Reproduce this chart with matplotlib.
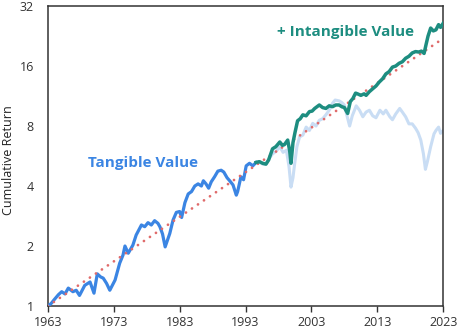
import numpy as np
import matplotlib
matplotlib.use('Agg')
import matplotlib.pyplot as plt
from matplotlib.ticker import FixedLocator, FixedFormatter

plt.rcParams['font.family'] = ['Open Sans', 'DejaVu Sans']

# Tangible value portfolio, cumulative growth of $1 (half-year readings)
tang_years = [1963.0, 1963.5, 1964.0, 1964.6, 1965.1, 1965.6, 1966.1, 1966.8, 1967.3, 1967.8,
              1968.6, 1969.4, 1970.0, 1970.5, 1971.0, 1971.4, 1971.9, 1972.4, 1973.2, 1973.9,
              1974.4, 1974.7, 1975.2, 1975.9, 1976.4, 1977.2, 1977.7, 1978.2, 1978.7, 1979.2,
              1979.7, 1980.0, 1980.4, 1980.8, 1981.5, 1982.0, 1982.5, 1983.0, 1983.3, 1983.8,
              1984.3, 1984.8, 1985.3, 1985.8, 1986.3, 1986.6, 1987.0, 1987.4, 1987.8, 1988.3,
              1988.8, 1989.3, 1989.7, 1990.2, 1990.6, 1991.1, 1991.6, 1991.8, 1992.3, 1992.7,
              1993.1, 1993.6, 1994.1, 1994.6,
              1995.1, 1995.6, 1996.1, 1996.6, 1997.1, 1997.6, 1998.2, 1998.7, 1999.2, 1999.6,
              1999.9, 2000.2, 2000.4, 2000.8, 2001.2, 2001.7, 2002.2, 2002.7, 2003.2, 2003.7,
              2004.2, 2004.7, 2005.2, 2005.7, 2006.2, 2006.6, 2007.2, 2007.6, 2008.0, 2008.4,
              2008.8, 2009.2, 2009.8, 2010.3, 2010.8, 2011.3, 2011.8, 2012.3, 2012.8, 2013.4,
              2013.9, 2014.3, 2014.9, 2015.3, 2015.8, 2016.4, 2016.8, 2017.3, 2017.8, 2018.3,
              2018.8, 2019.2, 2019.6, 2020.0, 2020.3, 2020.6, 2021.1, 2021.6, 2021.9, 2022.3,
              2022.6, 2023.0]
tang_values = [1.00, 1.03, 1.08, 1.14, 1.18, 1.15, 1.23, 1.18, 1.20, 1.13,
               1.27, 1.32, 1.16, 1.45, 1.40, 1.38, 1.30, 1.20, 1.35, 1.64,
               1.80, 2.00, 1.84, 2.02, 2.27, 2.55, 2.50, 2.62, 2.55, 2.68,
               2.60, 2.50, 2.30, 1.98, 2.31, 2.70, 2.95, 2.98, 2.78, 3.30,
               3.65, 3.75, 4.00, 4.10, 4.00, 4.25, 4.10, 3.90, 4.20, 4.45,
               4.75, 4.80, 4.70, 4.40, 4.25, 4.05, 3.60, 3.75, 4.45, 4.30,
               5.05, 5.20, 5.05, 5.25,
               5.30, 5.15, 5.15, 5.50, 5.80, 5.95, 6.30, 5.90, 6.05, 5.00,
               3.95, 4.40, 5.00, 6.30, 7.05, 7.20, 7.90, 7.60, 8.25, 8.00,
               8.55, 8.70, 9.10, 9.60, 10.40, 10.80, 10.70, 10.50, 10.20, 9.00,
               8.00, 9.00, 10.10, 9.60, 8.90, 9.40, 9.60, 9.00, 8.80, 9.60,
               9.20, 9.60, 8.90, 8.60, 9.20, 9.80, 9.40, 8.90, 8.20, 8.20,
               7.80, 7.40, 6.80, 5.80, 4.85, 5.30, 6.30, 7.30, 7.60, 7.90,
               7.35, 7.60]

# Tangible + intangible value, from the mid-1990s on
intang_years = [1994.6, 1995.1, 1995.6, 1996.1, 1996.5, 1997.1, 1997.6, 1998.2, 1998.6, 1998.9,
                1999.4, 1999.7, 1999.9, 2000.2, 2000.5, 2000.9, 2001.3, 2001.7, 2002.2, 2002.7,
                2003.1, 2003.5, 2004.2, 2004.7, 2005.2, 2005.7, 2006.2, 2006.7, 2007.2, 2007.6,
                2008.0, 2008.5, 2008.9, 2009.3, 2009.7, 2010.0, 2010.5, 2011.0, 2011.3, 2011.8,
                2012.3, 2012.8, 2013.3, 2013.8, 2014.3, 2014.8, 2015.3, 2015.8, 2016.3, 2016.8,
                2017.3, 2017.8, 2018.3, 2018.8, 2019.3, 2019.7, 2020.1, 2020.4, 2020.7, 2021.1,
                2021.5, 2021.9, 2022.3, 2022.6, 2023.0]
intang_values = [5.25, 5.30, 5.20, 5.15, 5.40, 6.15, 6.30, 6.65, 6.40, 6.45,
                 6.80, 6.00, 5.20, 6.60, 7.40, 8.50, 8.70, 9.10, 9.00, 9.45,
                 9.50, 9.80, 10.20, 9.90, 9.80, 10.10, 10.00, 10.20, 10.20, 10.00,
                 9.90, 9.25, 10.60, 11.00, 11.70, 11.60, 11.40, 11.60, 11.40, 11.90,
                 12.30, 12.70, 13.30, 13.80, 14.60, 15.00, 15.80, 16.00, 16.50, 16.80,
                 17.50, 17.90, 18.60, 18.90, 18.80, 19.00, 18.50, 20.50, 22.60, 24.80,
                 24.00, 24.30, 25.80, 25.00, 26.20]

trend_years = [1963, 2023]
trend_values = [1.0, 22.0]

x_ticks = [1963, 1973, 1983, 1993, 2003, 2013, 2023]
y_ticks = [1, 2, 4, 8, 16, 32]

split = 1994.6
tang_years = np.array(tang_years)
tang_values = np.array(tang_values)
early = tang_years <= split
late = tang_years >= split

fig = plt.figure(figsize=(4.74, 3.33), dpi=100)
ax = fig.add_axes([0.101, 0.081, 0.834, 0.901])

ax.plot(tang_years[late], tang_values[late], color='#c9ddf4', lw=2.2, zorder=2)
ax.plot(tang_years[early], tang_values[early], color='#3b85e3', lw=2.3, zorder=3)
ax.plot(trend_years, trend_values, color='#e06b6b', lw=2.0,
        linestyle=(0, (0.01, 2.6)), dash_capstyle='round', zorder=4)
ax.plot(intang_years, intang_values, color='#1d8d80', lw=2.5, zorder=5)

ax.text(1977.4, 5.2, 'Tangible Value', color='#3b85e3', fontsize=11,
        fontweight='bold', ha='center', va='center')
ax.text(2008.2, 23.7, '+ Intangible Value', color='#1d8d80', fontsize=11,
        fontweight='bold', ha='center', va='center')

ax.set_yscale('log', base=2)
ax.set_xlim(1963, 2023)
ax.set_ylim(1, 32)
ax.yaxis.set_major_locator(FixedLocator(y_ticks))
ax.yaxis.set_major_formatter(FixedFormatter([str(v) for v in y_ticks]))
ax.yaxis.set_minor_locator(FixedLocator([]))
ax.set_xticks(x_ticks)
ax.set_xticklabels([str(v) for v in x_ticks])

ax.tick_params(axis='y', length=0, pad=10, labelsize=9, labelcolor='#333333')
ax.tick_params(axis='x', length=4, width=1, color='#333333', pad=3,
               labelsize=9, labelcolor='#333333')
for sp in ax.spines.values():
    sp.set_color('#333333')
    sp.set_linewidth(1.1)

fig.text(9 / 474, 0.52, 'Cumulative Return', rotation=90, fontsize=9,
         color='#222222', ha='center', va='center')

fig.savefig('out.png', dpi=100)
